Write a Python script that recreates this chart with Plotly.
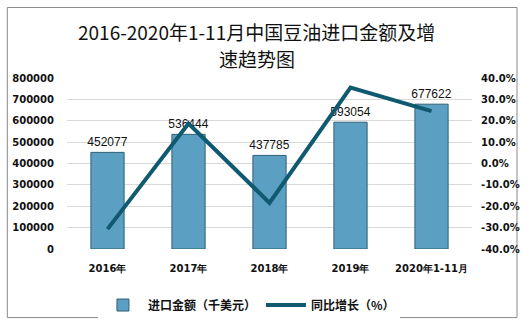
import plotly.graph_objects as go

categories = ["2016年", "2017年", "2018年", "2019年", "2020年1-11月"]
amounts = [452077, 536444, 437785, 593054, 677622]
growth = [-30.7, 18.7, -18.4, 35.5, 24.5]
left_ticks = [0, 100000, 200000, 300000, 400000, 500000, 600000, 700000, 800000]
right_ticks = [-40, -30, -20, -10, 0, 10, 20, 30, 40]
title_lines = ["2016-2020年1-11月中国豆油进口金额及增", "速趋势图"]

W, H = 532, 331
ml, mr, mt, mb = 66, 52, 78, 76
pw, ph = W - ml - mr, H - mt - mb

def px(x):
    return (x - ml) / pw

def py(y):
    return (H - mb - y) / ph

fig = go.Figure()
fig.add_trace(go.Bar(
    x=categories, y=amounts, name="进口金额（千美元）",
    width=0.41,
    marker=dict(color="#5b9fc2", line=dict(color="#2f6077", width=1)),
    text=[str(v) for v in amounts], textposition="outside",
    constraintext="none",
    textfont=dict(family="Liberation Sans, Arial", size=12, color="#111"),
    cliponaxis=False,
))
fig.add_trace(go.Scatter(
    x=categories, y=growth, name="同比增长（%）", yaxis="y2",
    mode="lines", line=dict(color="#0f5a70", width=4),
))

tickf = dict(family="DejaVu Sans, Liberation Sans", size=10, color="#111", weight="bold")

fig.update_layout(
    width=W, height=H,
    margin=dict(l=ml, r=mr, t=mt, b=mb),
    paper_bgcolor="white", plot_bgcolor="white",
    xaxis=dict(
        showgrid=False, showline=False, ticks="", ticklabelstandoff=12,
        tickfont=tickf,
    ),
    yaxis=dict(
        range=[0, 800000], tickvals=left_ticks,
        ticktext=[str(v) for v in left_ticks],
        showgrid=True, gridcolor="#d9d9d9", gridwidth=1,
        zeroline=False, showline=False, ticks="", ticklabelstandoff=12,
        tickfont=tickf,
    ),
    yaxis2=dict(
        range=[-40, 40], tickvals=right_ticks,
        ticktext=[f"{v:.1f}%" for v in right_ticks],
        overlaying="y", side="right",
        showgrid=False, zeroline=False, showline=False, ticks="", ticklabelstandoff=8,
        tickfont=tickf,
    ),
    legend=dict(
        orientation="h", x=px(252), xanchor="center", y=py(313), yanchor="middle",
        font=dict(family="Noto Sans CJK SC", size=12, color="#111", weight="bold"),
        itemwidth=40,
    ),
    showlegend=True,
)

for txt, yy in zip(title_lines, [30, 58]):
    fig.add_annotation(xref="paper", yref="paper", x=px(W / 2 - 6), y=py(yy),
                       xanchor="center", yanchor="middle", text=txt, showarrow=False,
                       font=dict(family="Noto Sans CJK SC", size=19, color="#111"))

fig.add_shape(type="rect", xref="paper", yref="paper",
              x0=px(5), x1=px(526), y0=py(326), y1=py(5),
              line=dict(color="#8a8a8a", width=1), fillcolor="rgba(0,0,0,0)", layer="below")

fig.write_html("out.html")
